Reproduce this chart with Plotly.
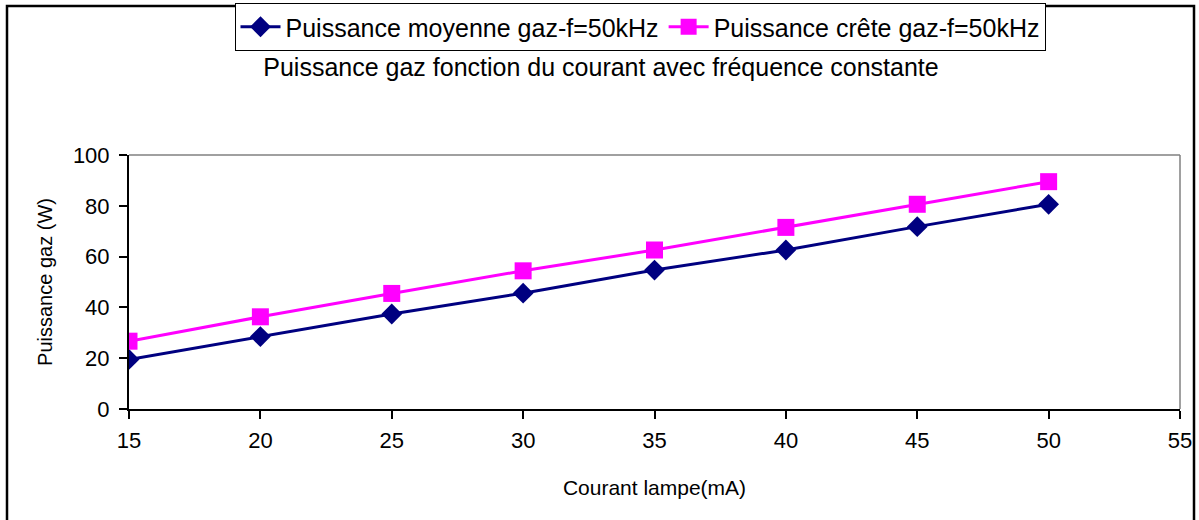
import plotly.graph_objects as go

courant = [15, 20, 25, 30, 35, 40, 45, 50]
p_moyenne = [19.5, 28.5, 37.4, 45.6, 54.7, 62.6, 71.8, 80.6]
p_crete = [26.7, 36.3, 45.5, 54.4, 62.6, 71.5, 80.6, 89.5]

W, H = 1199, 520
ml, mr, mt, mb = 129, 19, 155, 111
pw = W - ml - mr
ph = H - mt - mb

def px_x(px):
    return (px - ml) / pw

def px_y(py):
    return (H - mb - py) / ph

font = "Liberation Sans, Arial, sans-serif"

fig = go.Figure()
fig.add_trace(go.Scatter(
    x=courant, y=p_moyenne, mode="lines+markers",
    name="Puissance moyenne gaz-f=50kHz",
    line=dict(color="#000080", width=3),
    marker=dict(symbol="diamond", size=16, color="#000080"),
))
fig.add_trace(go.Scatter(
    x=courant, y=p_crete, mode="lines+markers",
    name="Puissance crête gaz-f=50kHz",
    line=dict(color="#FF00FF", width=3),
    marker=dict(symbol="square", size=17, color="#FF00FF"),
))

shapes = [
    dict(type="line", xref="paper", yref="paper", x0=0, x1=1, y0=1, y1=1,
         line=dict(color="#808080", width=1.5)),
    dict(type="line", xref="paper", yref="paper", x0=1, x1=1, y0=0, y1=1,
         line=dict(color="#808080", width=1.5)),
    dict(type="rect", xref="paper", yref="paper",
         x0=px_x(7), x1=px_x(1194), y0=px_y(540), y1=px_y(6),
         line=dict(color="black", width=2.5), layer="below"),
]

fig.update_layout(
    width=W, height=H,
    margin=dict(l=ml, r=mr, t=mt, b=mb, autoexpand=False),
    paper_bgcolor="white", plot_bgcolor="white",
    font=dict(family=font, size=18, color="black"),
    showlegend=True,
    legend=dict(
        orientation="h", x=px_x(640), xanchor="center",
        y=px_y(3), yanchor="top",
        bgcolor="white", bordercolor="black", borderwidth=1,
        font=dict(family=font, size=25, color="black"),
        itemwidth=40, tracegroupgap=0,
    ),
    title=dict(
        text="Puissance gaz fonction du courant avec fréquence constante",
        x=601 / W, xanchor="center", xref="container",
        y=1 - 67 / H, yanchor="middle", yref="container",
        font=dict(family=font, size=25, color="black"),
    ),
    shapes=shapes,
    xaxis=dict(
        range=[15, 55], tickvals=[15, 20, 25, 30, 35, 40, 45, 50, 55],
        showgrid=False, zeroline=False, automargin=False,
        showline=True, linecolor="black", linewidth=2,
        ticks="outside", ticklen=8, tickwidth=2, tickcolor="black",
        ticklabelstandoff=3,
        tickfont=dict(family=font, size=22),
        title=dict(text="Courant lampe(mA)", font=dict(family=font, size=21), standoff=28),
    ),
    yaxis=dict(
        range=[0, 100], tickvals=[0, 20, 40, 60, 80, 100],
        showgrid=False, zeroline=False, automargin=False,
        showline=True, linecolor="black", linewidth=2,
        ticks="outside", ticklen=8, tickwidth=2, tickcolor="black",
        ticklabelstandoff=5,
        tickfont=dict(family=font, size=22),
        title=dict(text="Puissance gaz (W)", font=dict(family=font, size=20), standoff=15),
    ),
)

fig.write_html("out.html", post_script="document.body.style.margin='0';",
               config={"displayModeBar": False})
